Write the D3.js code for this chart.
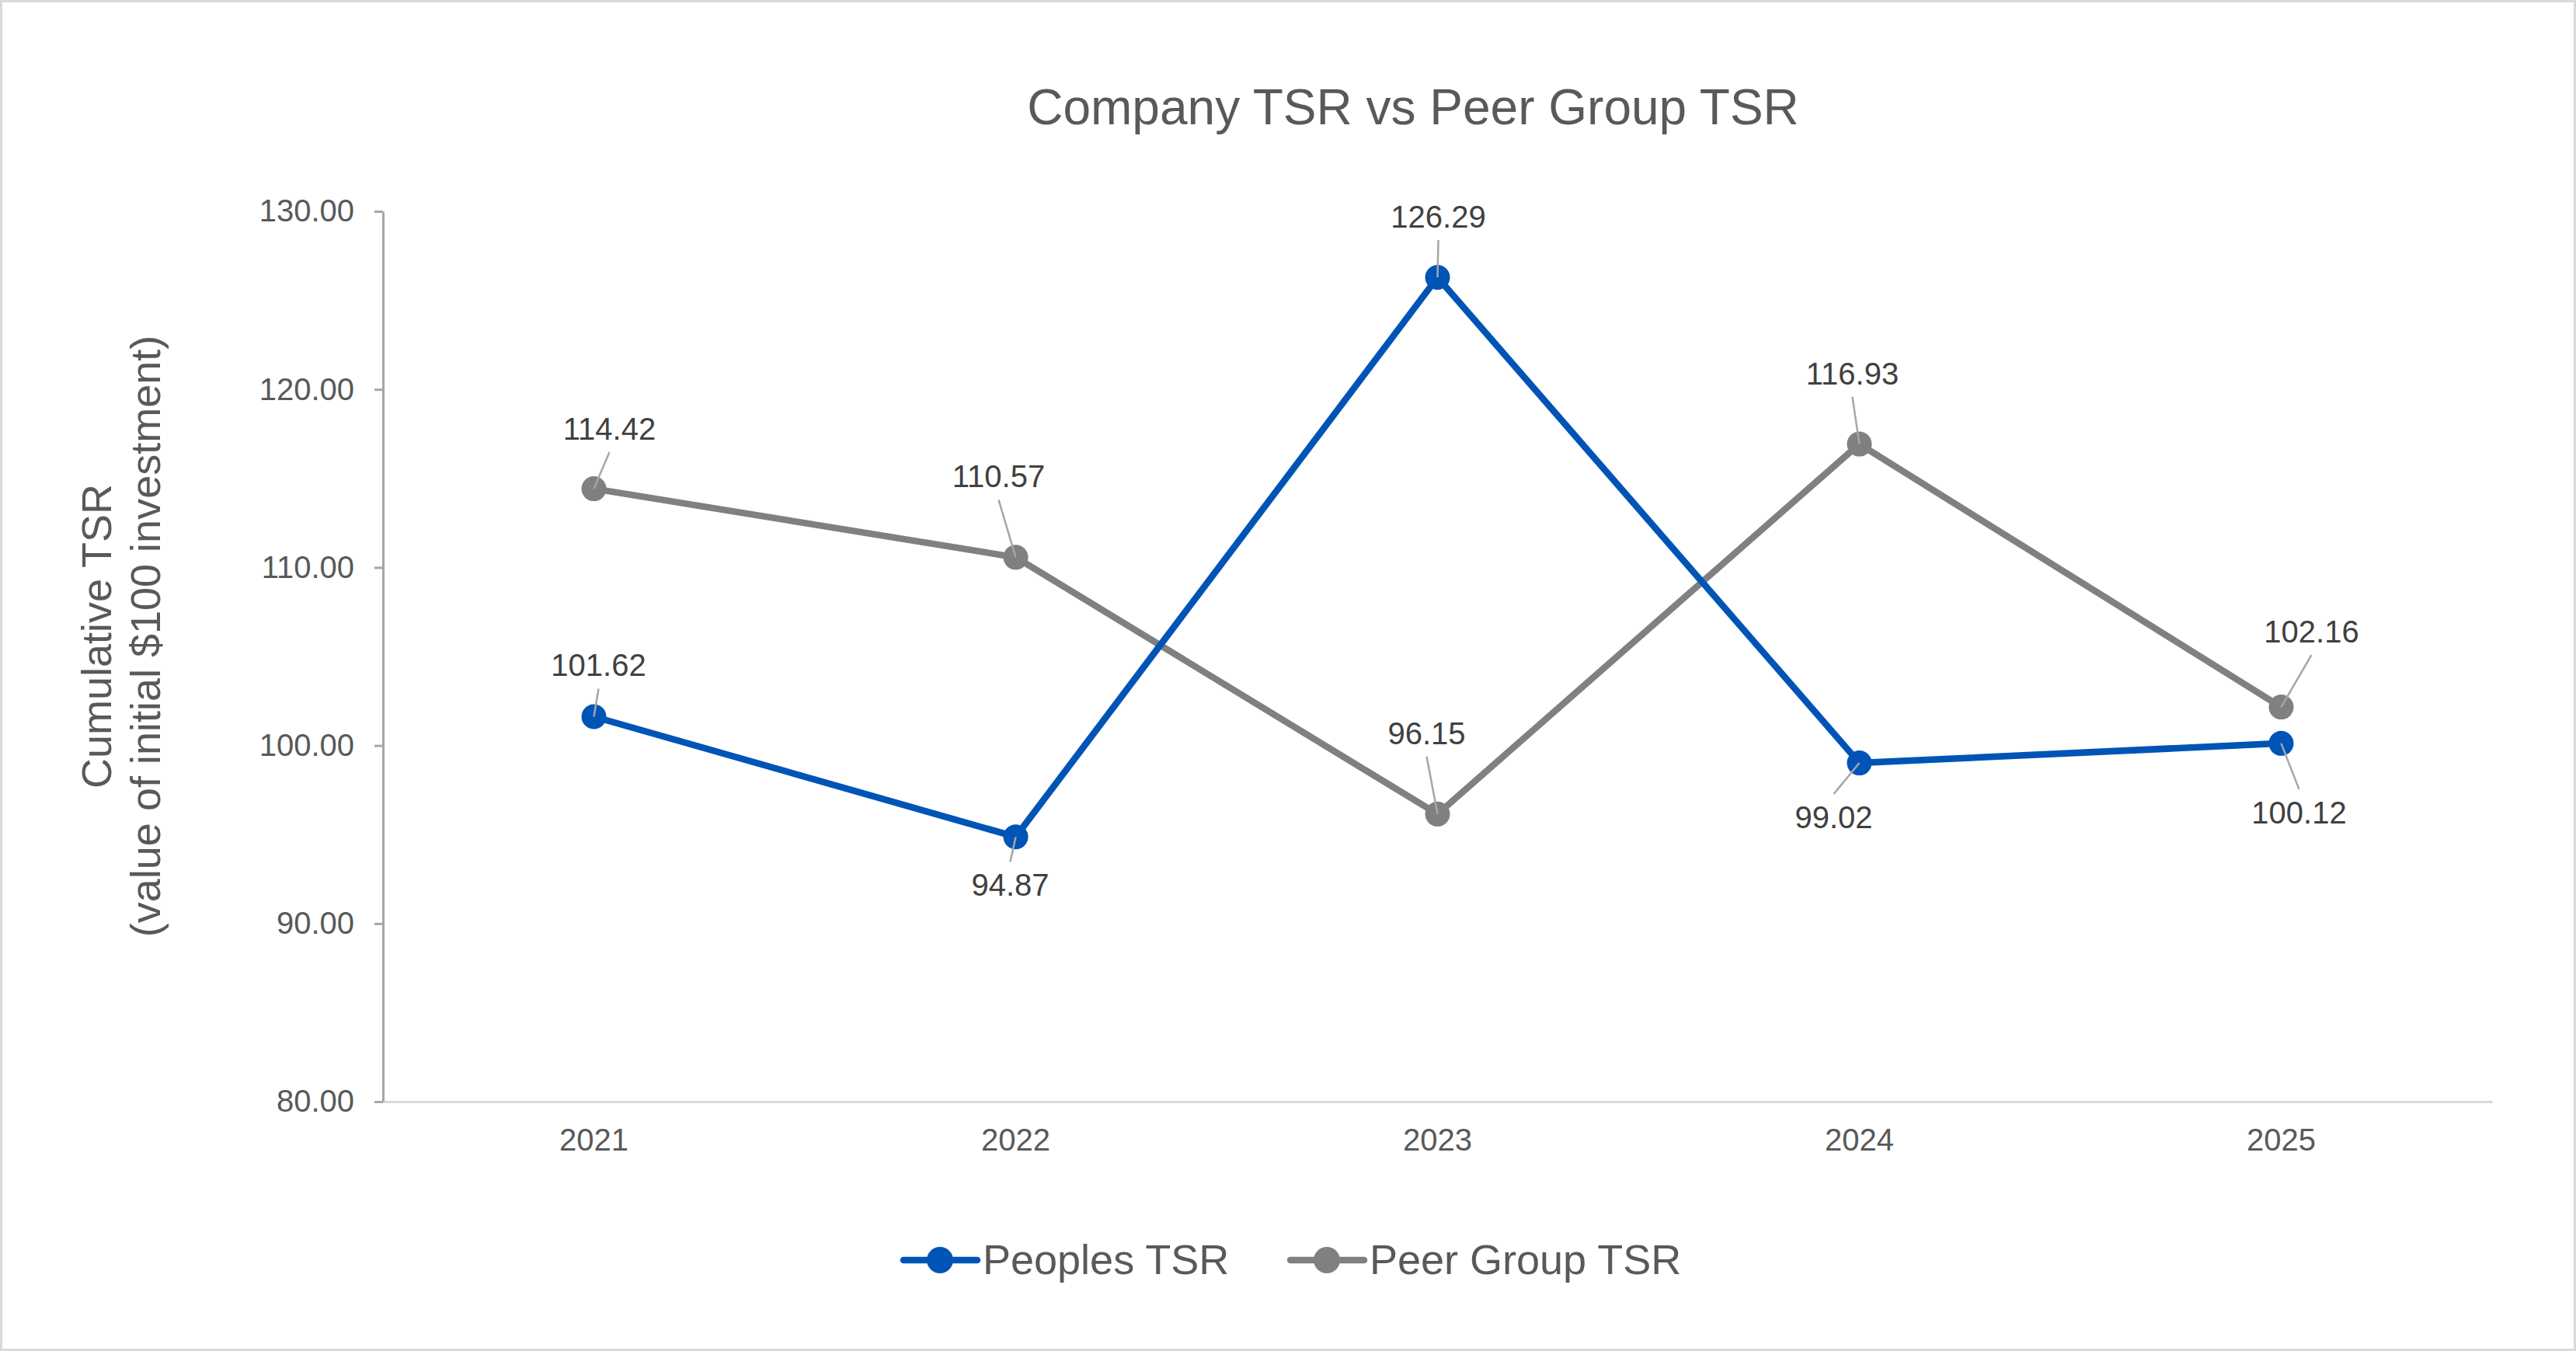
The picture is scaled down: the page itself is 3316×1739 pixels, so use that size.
<!DOCTYPE html>
<html>
<head>
<meta charset="utf-8">
<script src="https://cdn.jsdelivr.net/npm/d3@7/dist/d3.min.js"></script>
<style>
  html, body { margin: 0; padding: 0; background: #ffffff; }
  svg { display: block; }
  text { font-family: "Liberation Sans", Arial, Helvetica, sans-serif; }
</style>
</head>
<body>
<script>
// ---------------- data ----------------
const years = ["2021", "2022", "2023", "2024", "2025"];
const peoplesTSR = [101.62, 94.87, 126.29, 99.02, 100.12];
const peerTSR = [114.42, 110.57, 96.15, 116.93, 102.16];
const yTicks = [80, 90, 100, 110, 120, 130];
const seriesNames = ["Peoples TSR", "Peer Group TSR"];
const chartTitle = "Company TSR vs Peer Group TSR";
const yTitleLines = ["Cumulative TSR", "(value of initial $100 investment)"];

// data label offsets (label centre relative to its point)
const peoplesLabelOffsets = [[6, -66], [-7, 62], [1, -78], [-33, 70], [23, 89]];
const peerLabelOffsets = [[20, -77], [-22, -104], [-14, -104], [-9, -91], [39, -97]];

// ---------------- layout ----------------
const W = 3316, H = 1739;
const plot = { left: 493, right: 3208, top: 272, bottom: 1418 };
const colors = { peoples: "#0054B6", peer: "#808080", text: "#595959", label: "#404040",
                 yAxis: "#A6A6A6", xAxis: "#D9D9D9", leader: "#A6A6A6", border: "#D9D9D9" };

const svg = d3.select("body").append("svg").attr("width", W).attr("height", H);

svg.append("rect").attr("x", 1.5).attr("y", 1.5).attr("width", W - 3).attr("height", H - 3)
  .attr("fill", "#ffffff").attr("stroke", colors.border).attr("stroke-width", 3);

const x = d3.scaleBand().domain(years).range([plot.left, plot.right]);
const xc = d => x(d) + x.bandwidth() / 2;
const y = d3.scaleLinear().domain([80, 130]).range([plot.bottom, plot.top]);

// title
svg.append("text").attr("x", 1819).attr("y", 160).attr("text-anchor", "middle")
  .attr("font-size", 64).attr("fill", colors.text).text(chartTitle);

// x axis
const gx = svg.append("g").attr("transform", `translate(0,${plot.bottom})`)
  .call(d3.axisBottom(x).tickSize(0).tickSizeOuter(0).tickPadding(35));
gx.select(".domain").attr("stroke", colors.xAxis).attr("stroke-width", 3);
gx.selectAll("text").attr("font-size", 40).attr("fill", colors.text)
  .attr("font-family", "'Liberation Sans', Arial, sans-serif");

// y axis
const gy = svg.append("g").attr("transform", `translate(${plot.left},0)`)
  .call(d3.axisLeft(y).tickValues(yTicks).tickFormat(d3.format(".2f"))
        .tickSize(11).tickSizeOuter(0).tickPadding(26));
gy.select(".domain").attr("stroke", colors.yAxis).attr("stroke-width", 3);
gy.selectAll(".tick line").attr("stroke", colors.yAxis).attr("stroke-width", 3);
gy.selectAll("text").attr("font-size", 40).attr("fill", colors.text)
  .attr("font-family", "'Liberation Sans', Arial, sans-serif");

// y title
const yt = svg.append("text").attr("transform", "translate(0,819) rotate(-90)")
  .attr("text-anchor", "middle").attr("font-size", 54).attr("fill", colors.text);
yt.append("tspan").attr("x", 0).attr("y", 143).text(yTitleLines[0]);
yt.append("tspan").attr("x", 0).attr("y", 206).text(yTitleLines[1]);

// series
const series = [
  { name: seriesNames[1], values: peerTSR, color: colors.peer, offsets: peerLabelOffsets },
  { name: seriesNames[0], values: peoplesTSR, color: colors.peoples, offsets: peoplesLabelOffsets }
];
const line = d3.line().x(d => xc(d.year)).y(d => y(d.value));

series.forEach(s => {
  const pts = years.map((yr, i) => ({ year: yr, value: s.values[i] }));
  svg.append("path").datum(pts).attr("d", line).attr("fill", "none")
    .attr("stroke", s.color).attr("stroke-width", 8.5).attr("stroke-linejoin", "round");
  svg.append("g").selectAll("circle").data(pts).join("circle")
    .attr("cx", d => xc(d.year)).attr("cy", d => y(d.value)).attr("r", 16).attr("fill", s.color);
});

// data labels with leader lines
series.forEach(s => {
  years.forEach((yr, i) => {
    const px = xc(yr), py = y(s.values[i]);
    const [dx, dy] = s.offsets[i];
    const lx = px + dx, ly = py + dy;
    const endY = dy < 0 ? ly + 30 : ly - 30;
    svg.append("line").attr("x1", px).attr("y1", py).attr("x2", lx).attr("y2", endY)
      .attr("stroke", colors.leader).attr("stroke-width", 2.5);
    svg.append("text").attr("x", lx).attr("y", ly + 14).attr("text-anchor", "middle")
      .attr("font-size", 40).attr("fill", colors.label).text(d3.format(".2f")(s.values[i]));
  });
});

// legend
const legendItems = [
  { name: seriesNames[0], color: colors.peoples, x0: 1163 },
  { name: seriesNames[1], color: colors.peer, x0: 1661 }
];
legendItems.forEach(it => {
  const g = svg.append("g").attr("transform", `translate(${it.x0},1622)`);
  g.append("line").attr("x1", 0).attr("x2", 95).attr("y1", 0).attr("y2", 0)
    .attr("stroke", it.color).attr("stroke-width", 8.5).attr("stroke-linecap", "round");
  g.append("circle").attr("cx", 47).attr("cy", 0).attr("r", 17).attr("fill", it.color);
  g.append("text").attr("x", 102).attr("y", 18).attr("font-size", 54).attr("fill", colors.text).text(it.name);
});
</script>
</body>
</html>
